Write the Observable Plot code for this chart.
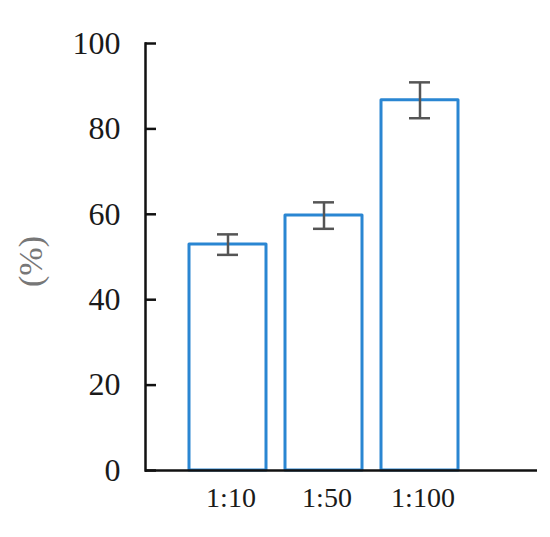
<!DOCTYPE html>
<html>
<head>
<meta charset="utf-8">
<script src="https://cdn.jsdelivr.net/npm/d3@7"></script>
<script src="https://cdn.jsdelivr.net/npm/@observablehq/plot@0.6"></script>
<style>
  html, body { margin: 0; padding: 0; background: #fff; }
</style>
</head>
<body>
<div id="chart"></div>
<script>
const categories = ["1:10", "1:50", "1:100"];
const values = [52.9, 59.7, 86.7];
const errors = [2.4, 3.1, 4.2];
const yTicks = [0, 20, 40, 60, 80, 100];
const yLabel = "(%)";

const data = categories.map((c, i) => ({cat: c, v: values[i], lo: values[i] - errors[i], hi: values[i] + errors[i]}));

const barColor = "#2a86d2";
const errColor = "#555555";

const chart = Plot.plot({
  width: 550,
  height: 537,
  marginLeft: 145,
  marginRight: 13,
  marginTop: 43,
  marginBottom: 67,
  style: {fontFamily: "'Liberation Serif', 'Times New Roman', serif", background: "white", color: "#111"},
  x: {domain: categories, paddingInner: 0.198, paddingOuter: 0.64, align: 0.358, label: null},
  y: {domain: [0, 100], ticks: yTicks, label: null},
  marks: [
    Plot.barY(data, {x: "cat", y: "v", fill: "white", stroke: barColor, strokeWidth: 3, strokeLinejoin: "round"}),
    Plot.ruleX(data, {x: "cat", y1: "lo", y2: "hi", stroke: errColor, strokeWidth: 2.5}),
    Plot.tickY(data, {x: "cat", y: "lo", stroke: errColor, strokeWidth: 2.5, insetLeft: 28, insetRight: 28}),
    Plot.tickY(data, {x: "cat", y: "hi", stroke: errColor, strokeWidth: 2.5, insetLeft: 28, insetRight: 28}),
    Plot.frame({anchor: "left", stroke: "#111", strokeWidth: 2.5}),
    Plot.ruleY([0], {stroke: "#111", strokeWidth: 2.5}),
    Plot.axisY({ticks: yTicks, tickSize: 11, dx: 11, text: null, label: null, stroke: "#111", strokeWidth: 2.5}),
    Plot.axisY({ticks: yTicks, tickSize: 0, tickPadding: 25, fontSize: 32, label: null, fill: "#1a1a1a"}),
    Plot.axisX({tickSize: 0, tickPadding: 17, fontSize: 28, dx: 3, label: null, fill: "#1a1a1a"}),
    Plot.text([yLabel], {frameAnchor: "left", dx: -114, dy: 30, rotate: -90, fontSize: 34, fill: "#777"})
  ]
});
document.getElementById("chart").appendChild(chart);
</script>
</body>
</html>
